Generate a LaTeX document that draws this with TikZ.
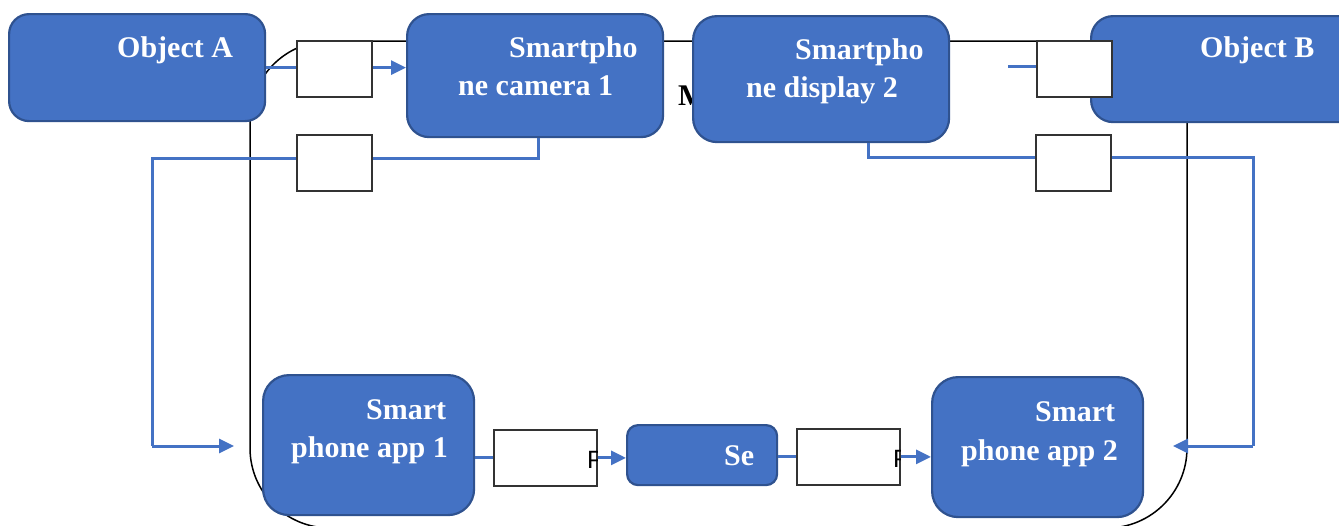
\documentclass[tikz,border=0pt]{standalone}
\usepackage{fontspec}
\setmainfont{Liberation Serif}
\newfontfamily\psans{Liberation Sans}
\usetikzlibrary{arrows.meta,calc}
\definecolor{bfill}{HTML}{4472C4}
\definecolor{bedge}{HTML}{2F528F}
\begin{document}
\begin{tikzpicture}[x=1pt,y=-1pt,
  bbox/.style={draw=bedge,fill=bfill,line width=2.2pt,inner sep=0pt,anchor=north west},
  wbox/.style={draw=black!80,fill=white,line width=1.8pt,inner sep=0pt,anchor=north west},
  lbl/.style={text=white,font=\fontsize{30}{30}\selectfont\bfseries,inner sep=0pt,anchor=base west},
  bl/.style={draw=bfill,line width=3pt},
  bla/.style={bl,-{Triangle[length=15pt,width=14pt]}},
  outline/.style={draw=black,line width=1.5pt}]
\useasboundingbox (0,0) rectangle (1339,525);
\clip (0,0) rectangle (1339,525);
% background outline
\draw[outline,rounded corners=80pt] (250,41) rectangle (1187,528);
\node[text=black,font=\fontsize{30}{30}\selectfont\bfseries,inner sep=0pt,anchor=base west] (m) at (678,105) {M};
% coordinates for connectors
\coordinate (c1) at (538,158);
\coordinate (c2) at (152,158);
\coordinate (t1) at (234,446);
\coordinate (c3) at (152,446);
\coordinate (d1) at (868,157);
\coordinate (d2) at (1253,157);
\coordinate (d3) at (1253,446);
\coordinate (t2) at (1173,446);
\coordinate (e1) at (1008,66);
% blue boxes
\node[bbox,rounded corners=20pt,minimum width=256pt,minimum height=107pt] (A) at (8,13) {};
\node[bbox,rounded corners=22pt,minimum width=256pt,minimum height=123pt] (cam) at (406,13) {};
\node[bbox,rounded corners=24pt,minimum width=256pt,minimum height=126pt] (disp) at (692,15) {};
\node[bbox,rounded corners=22pt,minimum width=270pt,minimum height=106pt] (B) at (1090,15) {};
\node[bbox,rounded corners=26pt,minimum width=211pt,minimum height=140pt] (app1) at (262,374) {};
\node[bbox,rounded corners=11pt,minimum width=150pt,minimum height=60pt] (se) at (626,424) {};
\node[bbox,rounded corners=26pt,minimum width=211pt,minimum height=140pt] (app2) at (931,376) {};
% blue connectors
\draw[bl] (A.east) -- (A.east -| 296,0);
\draw[bl] (cam.south -| c1) -- (c1) -- (c2) -- (c3);
\draw[bla] (c3) -- (t1);
\draw[bl] (disp.south -| d1) -- (d1) -- (d2) -- (d3);
\draw[bla] (d3) -- (t2);
\draw[bl] (e1) -- (1036,66);
% white boxes
\node[wbox,minimum width=75pt,minimum height=56pt] (b1) at (296,40) {};
\node[wbox,minimum width=75pt,minimum height=56pt] (b2) at (296,134) {};
\node[wbox,minimum width=75pt,minimum height=56pt] (b3) at (1036,40) {};
\node[wbox,minimum width=75pt,minimum height=56pt] (b4) at (1035,134) {};
\node[wbox,minimum width=103pt,minimum height=56pt] (b5) at (493,429) {};
\node[wbox,minimum width=103pt,minimum height=56pt] (b6) at (796,428) {};
\draw[bla] (b1.east |- A.east) -- (cam.west |- A.east);
\draw[bl] (app1.east |- b5.west) -- (b5.west);
\draw[bla] (b5.east) -- (se.west |- b5.east);
\draw[bl] (se.east |- b6.west) -- (b6.west);
\draw[bla] (b6.east) -- (app2.west |- b6.east);
% clipped P glyphs
\begin{scope}
\clip (b5.north west) rectangle (b5.south east);
\node[font=\psans\fontsize{25}{25}\selectfont,inner sep=0pt,anchor=base west] (p1) at (587,468) {P};
\end{scope}
\begin{scope}
\clip (b6.north west) rectangle (b6.south east);
\node[font=\psans\fontsize{25}{25}\selectfont,inner sep=0pt,anchor=base west] (p2) at (893,467) {P};
\end{scope}
% labels
\node[lbl] (tA) at (117,57) {Object A};
\node[lbl] (tB) at (1200,57) {Object B};
\node[lbl] (tc1) at (509,57) {Smartpho};
\node[lbl] (tc2) at (458,95) {ne camera 1};
\node[lbl] (td1) at (795,59) {Smartpho};
\node[lbl] (td2) at (746,97) {ne display 2};
\node[lbl] (ta1) at (366,419) {Smart};
\node[lbl] (ta2) at (291,457) {phone app 1};
\node[lbl] (tse) at (724,465) {Se};
\node[lbl] (tb1) at (1035,421) {Smart};
\node[lbl] (tb2) at (961,460) {phone app 2};
\end{tikzpicture}
\end{document}
